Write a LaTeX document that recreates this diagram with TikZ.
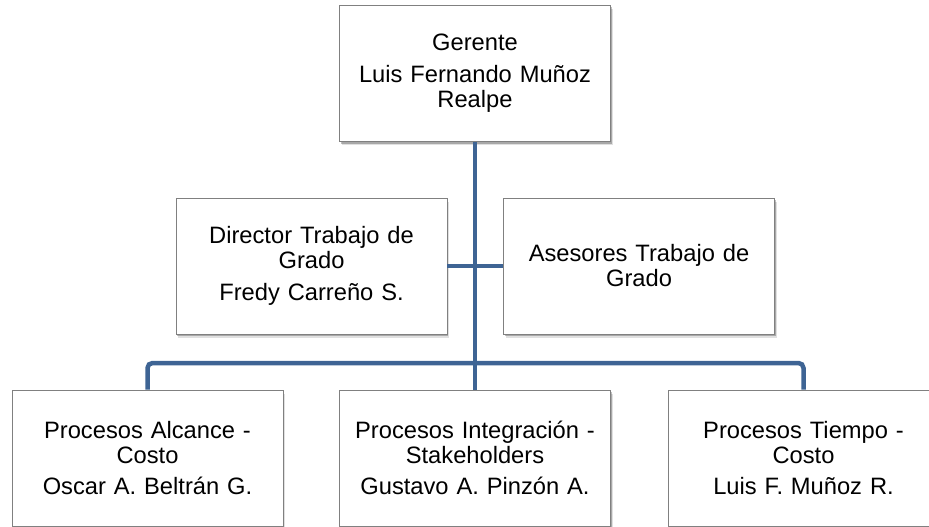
\documentclass[tikz,border=0pt]{standalone}
\usepackage{fontspec}
\setmainfont{Liberation Sans}
\usetikzlibrary{shadows}
\definecolor{connblue}{RGB}{62,100,148}
\definecolor{boxgray}{RGB}{128,128,128}
\tikzset{
  orgbox/.style={draw=boxgray, line width=0.9pt, fill=white,
    minimum width=271pt, minimum height=136pt, inner sep=0pt,
    text width=262pt, align=center,
    font=\fontsize{23.7}{25}\selectfont,
    general shadow={shadow xshift=2pt, shadow yshift=-3.5pt, opacity=0.12, fill=black},
    general shadow={shadow xshift=1.2pt, shadow yshift=-2pt, opacity=0.25, fill=black}},
  conn/.style={draw=connblue, line width=4.5pt}
}
\begin{document}
\begin{tikzpicture}[x=1pt,y=-1pt]
\useasboundingbox (0,0) rectangle (929,527);
\coordinate (bar) at (475,363);
\node[orgbox] (top) at (475,73.5) {Gerente\\[7pt]Luis Fernando Muñoz\\Realpe};
\node[orgbox] (dir) at (311.5,266) {Director Trabajo de\\Grado\\[7pt]Fredy Carreño S.};
\node[orgbox] (ases) at (639,266) {Asesores Trabajo de\\Grado};
\node[orgbox] (p1) at (147.5,458) {Procesos Alcance -\\Costo\\[6pt]Oscar A. Beltrán G.};
\node[orgbox] (p2) at (475,458) {Procesos Integración -\\Stakeholders\\[6pt]Gustavo A. Pinzón A.};
\node[orgbox] (p3) at (803.5,458) {Procesos Tiempo -\\Costo\\[6pt]Luis F. Muñoz R.};
\draw[conn] (top.south) -- (p2.north);
\draw[conn] (dir.east) -- (ases.west);
\draw[conn, rounded corners=5pt] (p1.north) |- (bar) -| (p3.north);
\end{tikzpicture}
\end{document}
